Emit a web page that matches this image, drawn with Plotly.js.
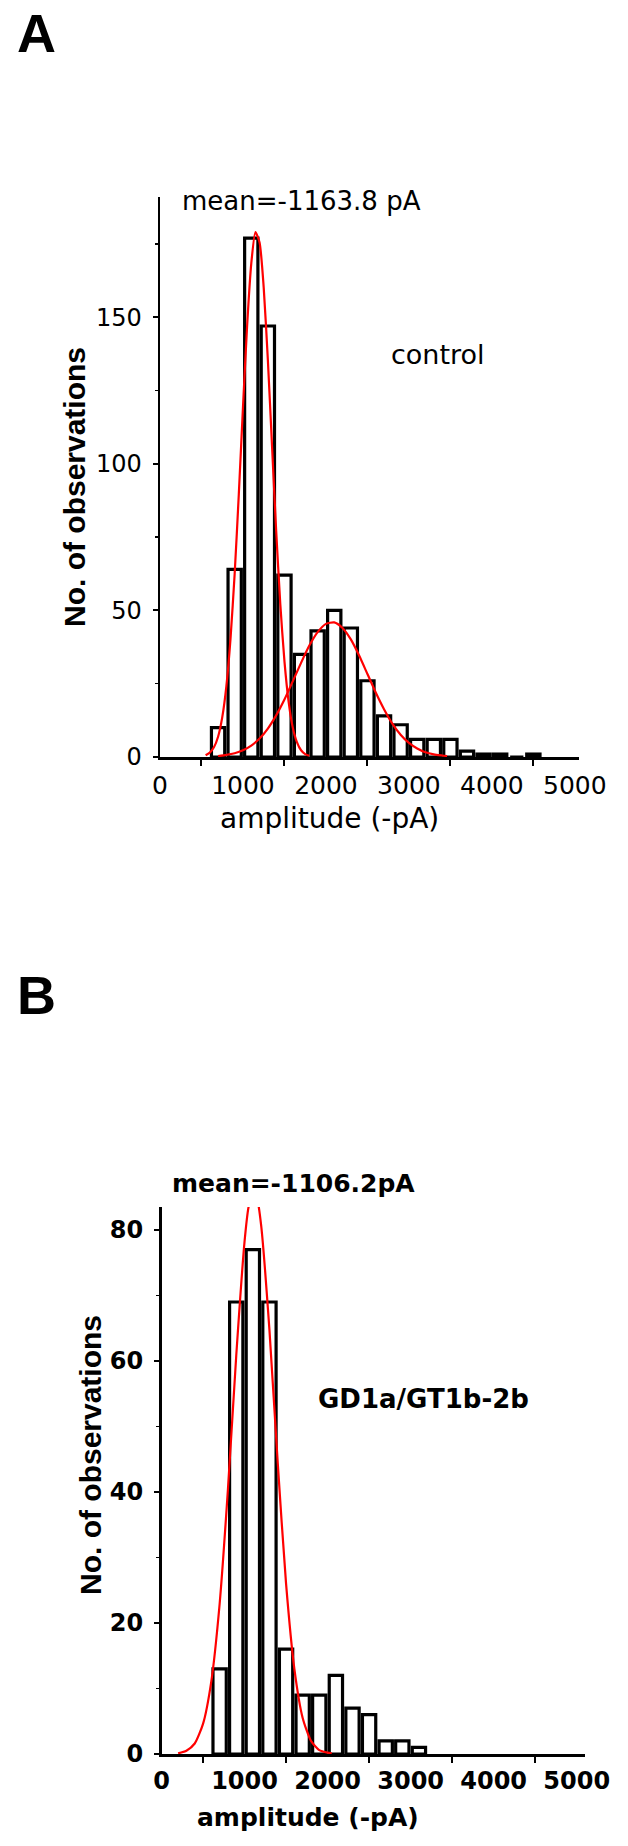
<!DOCTYPE html>
<html>
<head>
<meta charset="utf-8">
<script src="https://cdn.plot.ly/plotly-3.0.1.min.js"></script>
<style>
  body { margin: 0; background: #fff; }
  #chart { width: 628px; height: 1846px; }
</style>
</head>
<body>
<div id="chart"></div>
<script>
// ---- panel A : control ----
var binsA = [700, 900, 1100, 1300, 1500, 1700, 1900, 2100, 2300, 2500,
  2700, 2900, 3100, 3300, 3500, 3700, 3900, 4100, 4300, 4500];
var countsA = [10, 64, 177, 147, 62, 35, 43, 50, 44, 26,
  14, 11, 6, 6, 6, 2, 1, 1, 0, 1];

// fitted gaussians
var fitA1x = [550, 600, 650, 700, 750, 800, 850, 900, 950, 1000, 1050, 1100, 1150,
  1200, 1250, 1300, 1350, 1400, 1450, 1500, 1550, 1600, 1650, 1700, 1750, 1800];
var fitA1y = [0.6, 1.5, 3.3, 6.9, 13.5, 24.2, 40.4, 62.5, 89.7, 119.3, 147.1, 168.3, 179,
  175.5, 160.1, 135.4, 106.2, 77.2, 52.1, 32.6, 18.9, 10.1, 5.1, 2.3, 1.0, 0.4];
var fitA2x = [700, 800, 900, 1000, 1100, 1200, 1300, 1400, 1500, 1600, 1700, 1800, 1900,
  2000, 2100, 2200, 2300, 2400, 2500, 2600, 2700, 2800, 2900, 3000, 3100, 3200, 3300, 3400, 3460];
var fitA2y = [0.3, 0.7, 1.3, 2.3, 3.9, 6.3, 9.7, 14.2, 19.6, 25.8, 32.1, 38.0, 42.6,
  45.4, 45.9, 44.0, 40.1, 34.6, 28.3, 22.0, 16.3, 11.4, 7.6, 4.8, 2.9, 1.6, 0.9, 0.5, 0.3];

// ---- panel B : GD1a/GT1b-2b ----
var binsB = [700, 900, 1100, 1300, 1500, 1700, 1900, 2100, 2300, 2500, 2700, 2900, 3100];
var countsB = [13, 69, 77, 69, 16, 9, 9, 12, 7, 6, 2, 2, 1];

var fitBx = [200, 300, 400, 500, 600, 700, 800, 900, 1000, 1050, 1110, 1150,
  1200, 1300, 1400, 1500, 1600, 1700, 1800, 1900, 2000, 2050];
var fitBy = [0.1, 0.5, 1.6, 4.6, 11.1, 22.9, 40.4, 60.8, 78.2, 83.6, 86, 84.9,
  80.7, 64.7, 44.4, 26.0, 13.0, 5.5, 2.0, 0.6, 0.2, 0.1];

// axis ticks
var xLabels = [0, 1000, 2000, 3000, 4000, 5000];
var xMarks = [500, 1500, 2500, 3500, 4500];
var yMajorA = [0, 50, 100, 150];
var yMinorA = [25, 75, 125, 175];
var yMajorB = [0, 20, 40, 60, 80];
var yMinorB = [10, 30, 50, 70];

var W = 628, H = 1846;
function px(x) { return x / W; }
function py(y) { return 1 - y / H; }

var RED = '#ff0000';

function bars(x, y, xa, ya) {
  return {
    type: 'bar', x: x, y: y, xaxis: xa, yaxis: ya,
    marker: { color: 'white', line: { color: 'black', width: 3.2 } },
    hoverinfo: 'skip'
  };
}
function fit(x, y, xa, ya) {
  return {
    type: 'scatter', mode: 'lines', x: x, y: y, xaxis: xa, yaxis: ya,
    line: { color: RED, width: 2.2, shape: 'spline', smoothing: 0.6 },
    hoverinfo: 'skip'
  };
}

var data = [
  bars(binsA, countsA, 'x', 'y'),
  fit(fitA1x, fitA1y, 'x', 'y'),
  fit(fitA2x, fitA2y, 'x', 'y'),
  bars(binsB, countsB, 'x2', 'y2'),
  fit(fitBx, fitBy, 'x2', 'y2')
];

function xAxis(dom, range, anchor, bold) {
  return {
    domain: dom, range: range, anchor: anchor,
    showline: true, linecolor: 'black', linewidth: 2.5,
    showgrid: false, zeroline: false, fixedrange: true,
    tickmode: 'array', tickvals: xLabels, ticks: '',
    ticklabelstandoff: 4,
    tickfont: { family: 'DejaVu Sans', size: bold ? 24 : 25, color: 'black', weight: bold ? 'bold' : 'normal' },
    minor: { tickmode: 'array', tickvals: xMarks, ticks: 'outside', ticklen: 6, tickwidth: 2, tickcolor: 'black', showgrid: false }
  };
}
function yAxis(dom, range, anchor, major, minor, bold) {
  return {
    domain: dom, range: range, anchor: anchor,
    showline: true, linecolor: 'black', linewidth: 2.5,
    showgrid: false, zeroline: false, fixedrange: true,
    tickmode: 'array', tickvals: major, ticks: 'outside', ticklen: 5, tickwidth: 2, tickcolor: 'black',
    ticklabelstandoff: 6,
    tickfont: { family: 'DejaVu Sans', size: 24, color: 'black', weight: bold ? 'bold' : 'normal' },
    minor: { tickmode: 'array', tickvals: minor, ticks: 'outside', ticklen: 3, tickwidth: 1.5, tickcolor: 'black', showgrid: false }
  };
}

function note(text, x, y, size, opts) {
  opts = opts || {};
  return {
    text: text, xref: 'paper', yref: 'paper', x: px(x), y: py(y),
    xanchor: 'center', yanchor: 'middle', showarrow: false,
    textangle: opts.angle || 0,
    font: { family: opts.family || 'DejaVu Sans', size: size, color: 'black', weight: opts.bold ? 'bold' : 'normal' }
  };
}

var layout = {
  width: W, height: H,
  margin: { l: 0, r: 0, t: 0, b: 0 },
  paper_bgcolor: 'white', plot_bgcolor: 'rgba(0,0,0,0)',
  showlegend: false,
  bargap: 0.2,
  xaxis: xAxis([px(160), px(579)], [0, 5050], 'y', false),
  yaxis: yAxis([py(757), py(197)], [0, 191], 'x', yMajorA, yMinorA, false),
  xaxis2: xAxis([px(161.5), px(585)], [0, 5100], 'y2', true),
  yaxis2: yAxis([py(1754), py(1207)], [0, 83.5], 'x2', yMajorB, yMinorB, true),
  annotations: [
    note('A', 36, 33, 54, { family: 'Liberation Sans', bold: true }),
    note('mean=-1163.8 pA', 301, 201, 26),
    note('control', 438, 354, 27),
    note('amplitude (-pA)', 329, 818, 28),
    note('No. of observations', 74, 487, 30, { family: 'Liberation Sans', bold: true, angle: -90 }),
    note('B', 36, 995, 54, { family: 'Liberation Sans', bold: true }),
    note('mean=-1106.2pA', 293, 1183, 25, { bold: true }),
    note('GD1a/GT1b-2b', 423, 1399, 26, { bold: true }),
    note('amplitude (-pA)', 308, 1817, 25, { bold: true }),
    note('No. of observations', 90, 1455, 30, { family: 'Liberation Sans', bold: true, angle: -90 })
  ]
};

Plotly.newPlot('chart', data, layout, { displayModeBar: false, staticPlot: true });
</script>
</body>
</html>
